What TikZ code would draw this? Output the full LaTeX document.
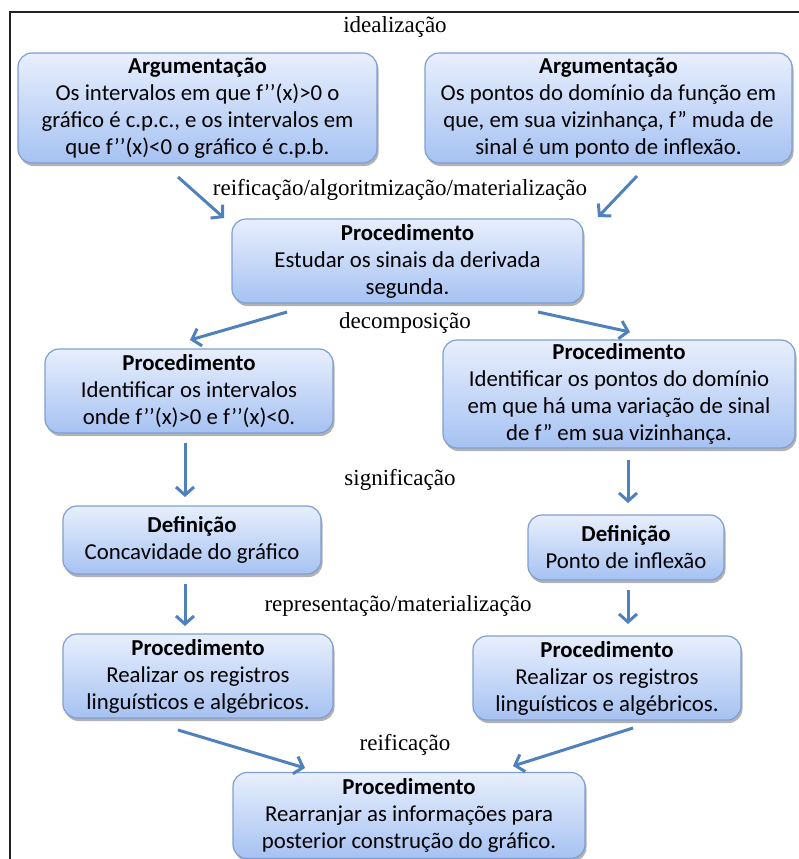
\documentclass[tikz,border=0pt]{standalone}
\usepackage{fontspec}
\setmainfont{Liberation Serif}
\newfontfamily\boxfont{Carlito}
\usetikzlibrary{arrows.meta,shadows}

\definecolor{boxtop}{HTML}{E8EFFD}
\definecolor{boxbot}{HTML}{A6C2F2}
\definecolor{boxline}{HTML}{7F9ECF}
\definecolor{arrowblue}{HTML}{4F81BD}
\definecolor{framegray}{HTML}{222222}

\begin{document}
\begin{tikzpicture}[x=1pt,y=-1pt,
  box/.style={rounded corners=14pt, draw=boxline, line width=1.2pt,
    top color=boxtop, bottom color=boxbot,
    drop shadow={shadow xshift=1.5pt, shadow yshift=-3pt, opacity=0.3, fill=black},
    align=center, inner sep=0pt,
    font=\boxfont\fontsize{22.8}{27}\selectfont},
  lbl/.style={font=\fontsize{23}{27}\selectfont, inner sep=0pt},
  arr/.style={draw=arrowblue, line width=3pt,
    -{Straight Barb[length=8pt,width=18pt]}},
  frame/.style={draw=framegray, line width=1.8pt}]

\useasboundingbox (0,0) rectangle (799,859);

% outer frame (top and left sides)
\draw[frame] (10,859) -- (10,12) -- (799,12);

% argumentation boxes
\node[box, minimum width=359pt, minimum height=110pt] (A1) at (197.5,108)
  {\textbf{Argumentação}\\Os intervalos em que f’’(x)>0 o\\gráfico é c.p.c., e os intervalos em\\que f’’(x)<0 o gráfico é c.p.b.};
\node[box, minimum width=367pt, minimum height=110pt] (A2) at (608.5,108)
  {\textbf{Argumentação}\\Os pontos do domínio da função em\\que, em sua vizinhança, f” muda de\\sinal é um ponto de inflexão.};

% main procedure
\node[box, minimum width=351pt, minimum height=84pt] (P1) at (407.5,261)
  {\textbf{Procedimento}\\Estudar os sinais da derivada\\segunda.};

% decomposition
\node[box, minimum width=288pt, minimum height=84pt] (P2L) at (189,391)
  {\textbf{Procedimento}\\Identificar os intervalos\\onde f’’(x)>0 e f’’(x)<0.};
\node[box, minimum width=352pt, minimum height=108pt] (P2R) at (619,394)
  {\textbf{Procedimento}\\Identificar os pontos do domínio\\em que há uma variação de sinal\\de f” em sua vizinhança.};

% definitions
\node[box, minimum width=258pt, minimum height=68pt] (D1) at (192,540)
  {\textbf{Definição}\\Concavidade do gráfico};
\node[box, minimum width=196pt, minimum height=65pt] (D2) at (626,547.5)
  {\textbf{Definição}\\Ponto de inflexão};

% registers
\node[box, minimum width=270pt, minimum height=84pt] (R1) at (198,676)
  {\textbf{Procedimento}\\Realizar os registros\\linguísticos e algébricos.};
\node[box, minimum width=268pt, minimum height=84pt] (R2) at (607,678)
  {\textbf{Procedimento}\\Realizar os registros\\linguísticos e algébricos.};

% final procedure
\node[box, minimum width=352pt, minimum height=86pt] (F) at (409,815.5)
  {\textbf{Procedimento}\\Rearranjar as informações para\\posterior construção do gráfico.};

% process labels
\node[lbl] (l1) at (395,27) {idealização};
\node[lbl] (l2) at (400,190) {reificação/algoritmização/materialização};
\node[lbl] (l3) at (405,323) {decomposição};
\node[lbl] (l4) at (400,480) {significação};
\node[lbl] (l5) at (398,606) {representação/materialização};
\node[lbl] (l6) at (405,745) {reificação};

% arrow end points
\coordinate (a1s) at (178,177);  \coordinate (a1e) at (224,218);
\coordinate (a2s) at (637,176);  \coordinate (a2e) at (598,217);
\coordinate (b1s) at (287,312);  \coordinate (b1e) at (190,340);
\coordinate (b2s) at (538,312);  \coordinate (b2e) at (630,332);
\coordinate (c1s) at (185,443);  \coordinate (c1e) at (185,497);
\coordinate (c2s) at (628,460);  \coordinate (c2e) at (628,503);
\coordinate (d1s) at (185,584);  \coordinate (d1e) at (185,626);
\coordinate (d2s) at (628,590);  \coordinate (d2e) at (628,624);
\coordinate (e1s) at (178,730);  \coordinate (e1e) at (305,768);
\coordinate (e2s) at (633,728);  \coordinate (e2e) at (513,766);

\draw[arr] (a1s) -- (a1e);
\draw[arr] (a2s) -- (a2e);
\draw[arr] (b1s) -- (b1e);
\draw[arr] (b2s) -- (b2e);
\draw[arr] (c1s) -- (c1e);
\draw[arr] (c2s) -- (c2e);
\draw[arr] (d1s) -- (d1e);
\draw[arr] (d2s) -- (d2e);
\draw[arr] (e1s) -- (e1e);
\draw[arr] (e2s) -- (e2e);

\end{tikzpicture}
\end{document}
